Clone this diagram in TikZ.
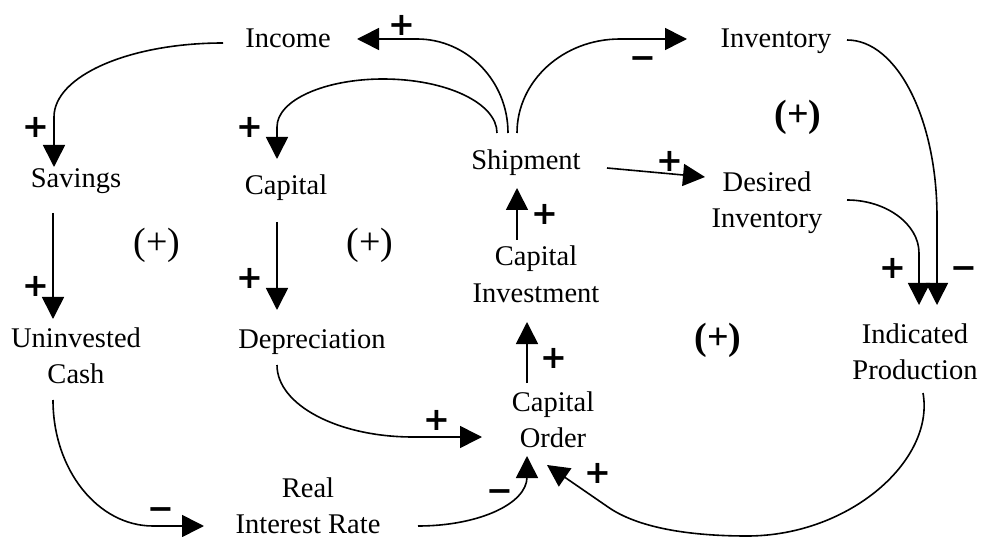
\documentclass[tikz,border=0pt]{standalone}
\usepackage{fontspec}
\setmainfont{Liberation Serif}
\newfontfamily\signfont{DejaVu Sans}
\usetikzlibrary{arrows.meta}
\begin{document}
\begin{tikzpicture}[x=1pt,y=-1pt,
  var/.style={inner sep=0pt, anchor=base, align=center, font=\fontsize{28.5}{36}\selectfont},
  loopmark/.style={inner sep=0pt, font=\fontsize{38}{40}\selectfont},
  boldloop/.style={inner sep=0pt, font=\fontsize{38}{40}\selectfont\bfseries},
  pol/.style={inner sep=0pt, anchor=base, font=\fontsize{32}{34}\signfont\bfseries},
  link/.style={line width=1.6pt, -{Triangle[length=22pt,width=22pt]}}]
\useasboundingbox (0,0) rectangle (985,537);

\node[var] (inc) at (288,48) {Income};
\node[var] (invt) at (776,48) {Inventory};
\node[var] (sav) at (76,188) {Savings};
\node[var] (cap) at (286,195) {Capital};
\node[var] (ship) at (526,170) {Shipment};
\node[var] (des) at (767,228) {Desired\\Inventory};
\node[var] (ci) at (536,302) {Capital\\Investment};
\node[var] (unc) at (76,383) {Uninvested\\Cash};
\node[var] (dep) at (312,348) {Depreciation};
\node[var] (ip) at (915,379) {Indicated\\Production};
\node[var] (co) at (553,447) {Capital\\Order};
\node[var] (rir) at (308,533.5) {Real\\Interest Rate};

\draw[link] ([xshift=-65pt,yshift=5pt]inc.base) .. controls (129,43) and (54,76) .. (54,117) -- ([xshift=-22pt,yshift=21pt]sav.base);
\draw[link] ([xshift=-18pt,yshift=37pt]ship.base) .. controls (508,81) and (467,39) .. (417,39) -- ([xshift=69pt,yshift=9pt]inc.base);
\draw[link] ([xshift=-29pt,yshift=37pt]ship.base) .. controls (497,103) and (446,79) .. (383,79) .. controls (325,79) and (277,100) .. (277,127) -- ([xshift=-9pt,yshift=36pt]cap.base);
\draw[link] ([xshift=-9pt,yshift=37pt]ship.base) .. controls (517,81) and (563,39) .. (620,39) -- ([xshift=-89pt,yshift=9pt]invt.base);
\draw[link] ([xshift=81pt,yshift=2pt]ship.base) -- ([xshift=-62pt,yshift=51pt]des.base);
\draw[link] ([xshift=-19pt,yshift=62pt]ci.base) -- ([xshift=-9pt,yshift=-18pt]ship.base);
\draw[link] ([xshift=-26pt,yshift=64pt]co.base) -- ([xshift=-9pt,yshift=-20pt]ci.base);
\draw[link] ([xshift=-23pt,yshift=-25pt]sav.base) -- ([xshift=-23pt,yshift=64pt]unc.base);
\draw[link] ([xshift=-9pt,yshift=-27pt]cap.base) -- ([xshift=-35pt,yshift=38pt]dep.base);
\draw[link] ([xshift=-35pt,yshift=-17pt]dep.base) .. controls (277,405) and (338,437) .. (413,437) -- ([xshift=-71pt,yshift=10pt]co.base);
\draw[link] ([xshift=-23pt,yshift=-17pt]unc.base) .. controls (53,470) and (98,526) .. (153,526) -- ([xshift=-104pt,yshift=7.5pt]rir.base);
\draw[link] ([xshift=110pt,yshift=7.5pt]rir.base) .. controls (478,526) and (527,504) .. (527,477) -- ([xshift=-26pt,yshift=-9pt]co.base);
\draw[link] ([xshift=8pt,yshift=-14pt]ip.base) .. controls (935,460) and (850,536) .. (747,536) .. controls (690,536) and (638,528) .. (608,507) -- ([xshift=-6pt,yshift=-18pt]co.base);
\draw[link] ([xshift=80pt,yshift=28pt]des.base) .. controls (886,200) and (919,224) .. (919,253) -- ([xshift=4pt,yshift=74pt]ip.base);
\draw[link] ([xshift=71pt,yshift=8pt]invt.base) .. controls (897,40) and (937,119) .. (937,217) -- ([xshift=22pt,yshift=74pt]ip.base);

\node[pol] (s1) at (402,35.5) {+};
\node[pol] (s2) at (36,137.5) {+};
\node[pol] (s3) at (250,137.5) {+};
\node[pol] (s4) at (643,68.5) {−};
\node[pol] (s5) at (670,171.5) {+};
\node[pol] (s6) at (545,224.5) {+};
\node[pol] (s7) at (36,296.5) {+};
\node[pol] (s8) at (250,288.5) {+};
\node[pol] (s9) at (437,430.5) {+};
\node[pol] (s10) at (161,519.5) {−};
\node[pol] (s11) at (500,501.5) {−};
\node[pol] (s12) at (554,368.5) {+};
\node[pol] (s13) at (598,483.5) {+};
\node[pol] (s14) at (893,278.5) {+};
\node[pol] (s15) at (964,278.5) {−};

\node[loopmark] (l1) at (157,245) {(+)};
\node[loopmark] (l2) at (370,245) {(+)};
\node[boldloop] (l3) at (798,117) {(+)};
\node[boldloop] (l4) at (718,340) {(+)};
\end{tikzpicture}
\end{document}
